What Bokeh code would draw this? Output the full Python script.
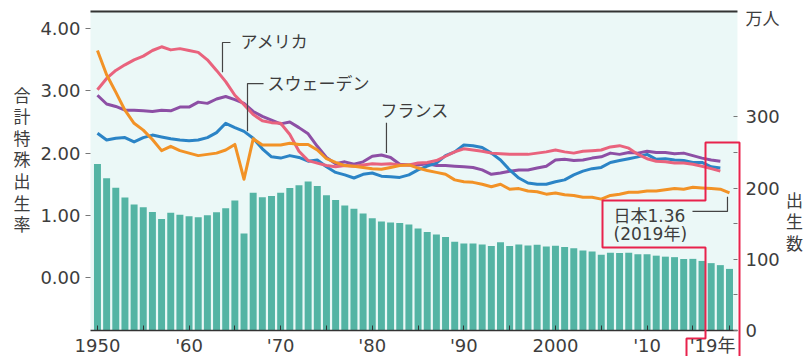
from bokeh.plotting import figure
from bokeh.models import (Range1d, LinearAxis, FixedTicker, Label, PolyAnnotation,
                          BoxAnnotation, NumeralTickFormatter)
from bokeh.embed import file_html
from bokeh.resources import INLINE

# ---- data ----------------------------------------------------------------
years = list(range(1950, 2020))
years_intl = list(range(1950, 2019))

# 日本の出生数（万人）
births = [233.7, 213.8, 200.5, 186.8, 177.0, 173.1, 166.5, 156.7, 165.3, 162.6,
          160.6, 158.9, 161.9, 166.0, 171.7, 182.4, 136.1, 193.5, 187.2, 188.9,
          193.4, 200.1, 203.9, 209.2, 203.0, 190.1, 183.3, 175.5, 170.9, 164.3,
          157.7, 152.9, 151.5, 150.9, 149.0, 143.2, 138.3, 134.7, 131.4, 124.7,
          122.2, 122.3, 120.9, 118.8, 123.8, 118.7, 120.7, 119.2, 120.3, 117.8,
          119.1, 117.1, 115.4, 112.4, 111.1, 106.3, 109.3, 109.0, 109.1, 107.0,
          107.1, 105.1, 103.7, 103.0, 100.4, 100.6, 97.7, 94.6, 91.8, 86.5]

# 合計特殊出生率
japan = [3.65, 3.26, 2.98, 2.69, 2.48, 2.37, 2.22, 2.04, 2.11, 2.04,
         2.00, 1.96, 1.98, 2.00, 2.05, 2.14, 1.58, 2.23, 2.13, 2.13,
         2.13, 2.16, 2.14, 2.14, 2.05, 1.91, 1.85, 1.80, 1.79, 1.77,
         1.75, 1.74, 1.77, 1.80, 1.81, 1.76, 1.72, 1.69, 1.66, 1.57,
         1.54, 1.53, 1.50, 1.46, 1.50, 1.42, 1.43, 1.39, 1.38, 1.34,
         1.36, 1.33, 1.32, 1.29, 1.29, 1.26, 1.32, 1.34, 1.37, 1.37,
         1.39, 1.39, 1.41, 1.43, 1.42, 1.45, 1.44, 1.43, 1.42, 1.36]

usa = [3.02, 3.20, 3.33, 3.42, 3.50, 3.56, 3.65, 3.71, 3.66, 3.68,
       3.65, 3.62, 3.50, 3.33, 3.15, 2.93, 2.78, 2.62, 2.52, 2.49,
       2.48, 2.30, 2.03, 1.88, 1.84, 1.80, 1.78, 1.80, 1.79, 1.81,
       1.83, 1.82, 1.83, 1.81, 1.81, 1.84, 1.85, 1.88, 1.95, 2.02,
       2.07, 2.05, 2.03, 2.00, 1.99, 1.98, 1.98, 1.98, 2.00, 2.02,
       2.05, 2.02, 2.00, 2.03, 2.04, 2.05, 2.10, 2.12, 2.08, 1.98,
       1.91, 1.87, 1.86, 1.84, 1.84, 1.82, 1.79, 1.75, 1.71]

sweden = [2.32, 2.21, 2.24, 2.25, 2.18, 2.25, 2.29, 2.26, 2.23, 2.21,
          2.20, 2.21, 2.25, 2.33, 2.48, 2.41, 2.35, 2.24, 2.07, 1.94,
          1.92, 1.96, 1.93, 1.87, 1.89, 1.78, 1.69, 1.65, 1.60, 1.66,
          1.68, 1.63, 1.62, 1.61, 1.65, 1.73, 1.79, 1.84, 1.96, 2.02,
          2.13, 2.12, 2.09, 2.00, 1.89, 1.73, 1.60, 1.52, 1.50, 1.50,
          1.54, 1.57, 1.65, 1.71, 1.75, 1.77, 1.85, 1.88, 1.91, 1.94,
          1.98, 1.90, 1.91, 1.89, 1.88, 1.85, 1.85, 1.78, 1.76]

france = [2.93, 2.79, 2.75, 2.69, 2.69, 2.68, 2.67, 2.69, 2.68, 2.74,
          2.74, 2.82, 2.80, 2.87, 2.91, 2.86, 2.80, 2.67, 2.59, 2.53,
          2.47, 2.50, 2.41, 2.31, 2.11, 1.93, 1.83, 1.86, 1.82, 1.86,
          1.95, 1.97, 1.93, 1.82, 1.81, 1.81, 1.83, 1.80, 1.80, 1.79,
          1.78, 1.77, 1.73, 1.66, 1.68, 1.71, 1.73, 1.73, 1.76, 1.79,
          1.89, 1.90, 1.88, 1.89, 1.92, 1.94, 2.00, 1.98, 2.01, 2.00,
          2.03, 2.01, 2.01, 1.99, 2.00, 1.96, 1.92, 1.89, 1.87]

x_ticks = [1950, 1955, 1960, 1965, 1970, 1975, 1980, 1985, 1990, 1995,
           2000, 2005, 2010, 2015, 2019]
x_tick_labels = ["1950", "", "'60", "", "'70", "", "'80", "", "'90", "",
                 "2000", "", "'10", "", ""]
rate_ticks = [0, 1, 2, 3, 4]
birth_ticks = [0, 100, 200, 300]
birth_minor = [50, 150, 250]

# ---- geometry of the plotting box (data units) ------------------------------
X0, X1 = 1949.24, 2019.87          # left / right edge of the tinted box
Y0, Y1 = -0.852, 4.293             # bottom / top edge (rate scale)

# ---- styling ---------------------------------------------------------------
FONT = "'DejaVu Sans', 'Noto Sans CJK JP', sans-serif"
TXT = "#3d3d3d"
C_USA = "#e9637d"
C_SWE = "#2b84c6"
C_FRA = "#8d4fa5"
C_JPN = "#f29226"
C_BAR = "#54b4a4"
C_RED = "#e8224c"

# the frame covers the whole canvas; axes sit at fixed locations inside it
p = figure(width=805, height=356,
           x_range=Range1d(1939.415, 2027.297), y_range=Range1d(-1.270, 4.454),
           x_axis_type=None, y_axis_type=None,
           output_backend="svg", toolbar_location=None,
           min_border=0)
p.extra_y_ranges = {"births": Range1d(-36.52, 463.45)}
p.background_fill_color = "white"
p.border_fill_color = "white"
p.outline_line_color = None
p.grid.visible = False

p.add_layout(BoxAnnotation(left=X0, right=X1, bottom=Y0, top=Y1,
                           fill_color="#ebf8f7", fill_alpha=1.0,
                           line_color=None, level="underlay"))

# x axis
xa = LinearAxis(fixed_location=Y0, bounds=(X0, X1),
                ticker=FixedTicker(ticks=x_ticks, minor_ticks=[]))
xa.major_label_overrides = dict(zip(x_ticks, x_tick_labels))
xa.major_tick_in = 5
xa.major_tick_out = 0
xa.major_tick_line_color = "#333333"
xa.axis_line_color = "#333333"
xa.axis_line_width = 1.5
xa.major_label_standoff = 4
xa.major_label_text_font = FONT
xa.major_label_text_font_size = "18px"
xa.major_label_text_color = TXT
p.add_layout(xa, "below")

# left axis: total fertility rate
ya = LinearAxis(fixed_location=X0,
                ticker=FixedTicker(ticks=rate_ticks, minor_ticks=[]))
ya.formatter = NumeralTickFormatter(format="0.00")
ya.axis_line_color = None
ya.major_tick_in = 0
ya.major_tick_out = 5
ya.major_tick_line_color = "#777777"
ya.major_label_standoff = 5
ya.major_label_text_font = FONT
ya.major_label_text_font_size = "18px"
ya.major_label_text_color = TXT
p.add_layout(ya, "left")

# right axis: number of births
ra = LinearAxis(y_range_name="births", fixed_location=X1,
                ticker=FixedTicker(ticks=birth_ticks, minor_ticks=birth_minor))
ra.axis_line_color = None
ra.major_tick_in = 4
ra.major_tick_out = 0
ra.minor_tick_in = 4
ra.minor_tick_out = 0
ra.major_tick_line_color = "#777777"
ra.minor_tick_line_color = "#777777"
ra.major_label_standoff = 8
ra.major_label_text_font = FONT
ra.major_label_text_font_size = "18px"
ra.major_label_text_color = TXT
p.add_layout(ra, "right")

# top rule
p.line([X0, X1], [Y1 - 0.016, Y1 - 0.016], line_color="#333333", line_width=2)

# births as bars on the right-hand scale
p.vbar(x=years, top=births, bottom=0, width=0.76, y_range_name="births",
       fill_color=C_BAR, line_color=None)

# fertility-rate lines
for ys, col, xs in [(france, C_FRA, years_intl), (sweden, C_SWE, years_intl),
                    (usa, C_USA, years_intl), (japan, C_JPN, years)]:
    p.line(xs, ys, line_color=col, line_width=3, line_join="round")

# leader lines
LEAD = "#444444"
p.line([1964.52, 1963.65, 1963.65], [3.779, 3.779, 3.30], line_color=LEAD, line_width=1.2)
p.line([1968.13, 1966.38, 1966.38], [3.119, 3.119, 2.35], line_color=LEAD, line_width=1.2)
p.line([1981.55, 1981.55], [2.49, 2.00], line_color=LEAD, line_width=1.2)
p.line([2014.96, 2018.78, 2018.78], [1.062, 1.062, 1.30], line_color=LEAD, line_width=1.2)

# emphasis outline around the latest Japanese value (canvas pixels)
p.add_layout(PolyAnnotation(
    xs=[739, 739, 705, 705, 602, 602, 705, 705, 686, 686],
    ys=[362, 142, 142, 200, 200, 247, 247, 338, 338, 362],
    xs_units="canvas", ys_units="canvas",
    fill_alpha=0, line_color=C_RED, line_alpha=1.0, line_width=2))


def label(x, y, text, align="left", baseline="middle", size="17px", lh=1.2,
          units="data"):
    p.add_layout(Label(x=x, y=y, text=text, text_align=align,
                       text_baseline=baseline, text_font=FONT,
                       text_font_size=size, text_color=TXT,
                       text_line_height=lh, x_units=units, y_units=units))


label(1965.62, 3.779, "アメリカ")
label(1968.56, 3.119, "スウェーデン")
label(1980.90, 2.685, "フランス")
label(2006.34, 0.997, "日本1.36")
label(2006.34, 0.692, "(2019年)")
label(735, 345, "'19年", align="right", size="18px", units="canvas")
label(745, 18, "万人", units="canvas")
label(794, 190, "出\n生\n数", align="center", baseline="top", lh=1.08,
      units="canvas")
label(21.5, 85, "合\n計\n特\n殊\n出\n生\n率", align="center",
      baseline="top", lh=1.08, units="canvas")

open("out.html", "w").write(file_html(p, INLINE))
